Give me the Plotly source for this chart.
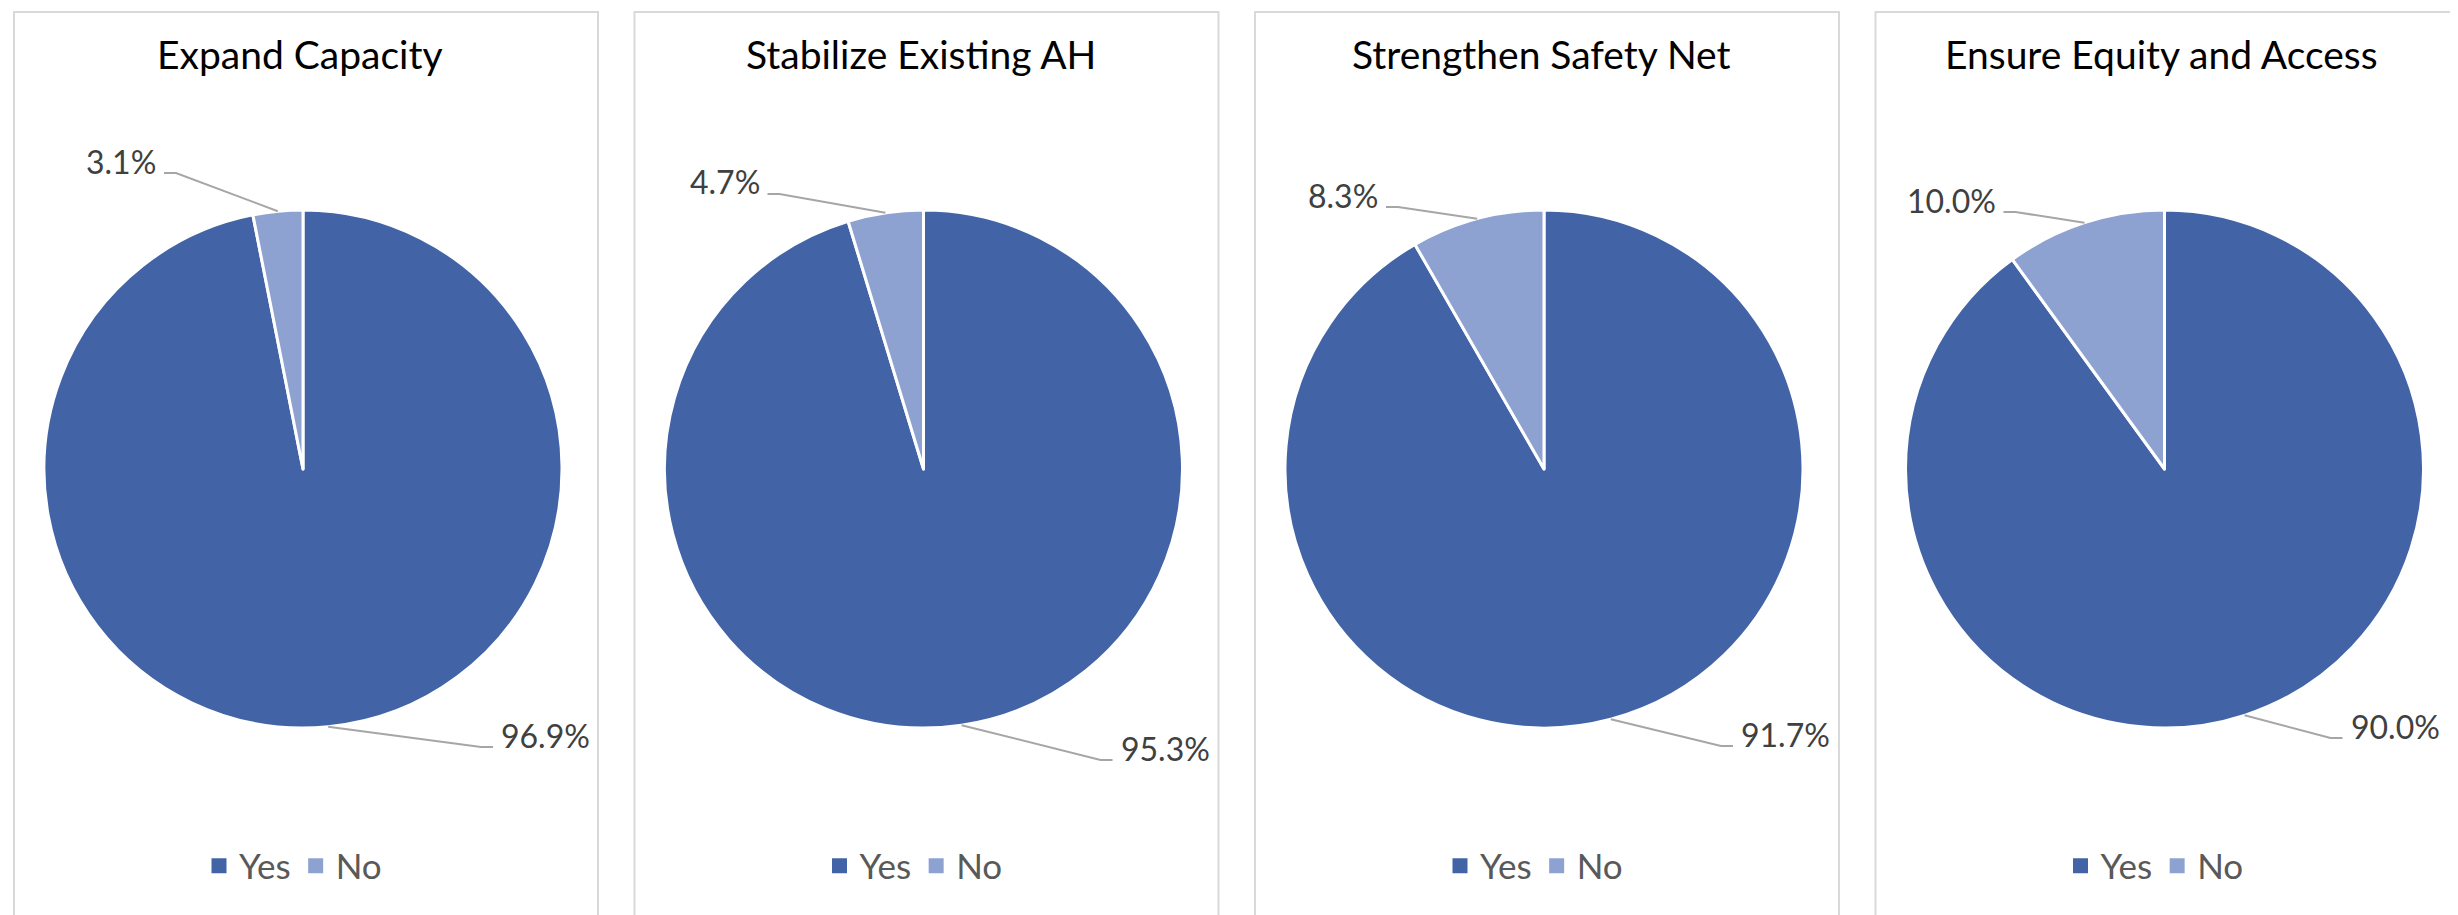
import math
import plotly.graph_objects as go

# ---- data ----
titles = ["Expand Capacity", "Stabilize Existing AH", "Strengthen Safety Net", "Ensure Equity and Access"]
categories = ["Yes", "No"]
yes_values = [96.9, 95.3, 91.7, 90.0]
no_values = [3.1, 4.7, 8.3, 10.0]

# ---- layout / style ----
W, H = 2458, 915
colors = ["#4264A6", "#8EA2D2"]
FONT = "Lato"
panel_step = 620.5
cx0, cy, R = 295.0, 461.0, 259.0
# label anchor offsets relative to pie centre (px): (x edge, middle y)
yes_label_off = [(196, 266), (195, 279), (195, 265), (184, 257)]
no_label_off = [(-145, -308), (-162, -287), (-164, -274), (-167, -269)]


def px(x):
    return x / W


def py(y):
    return 1 - y / H


fig = go.Figure()
shapes = []
annotations = []

for i in range(4):
    cx = cx0 + panel_step * i
    vals = [yes_values[i], no_values[i]]
    lg = "legend" if i == 0 else f"legend{i + 1}"
    fig.add_trace(go.Pie(
        labels=categories,
        values=vals,
        sort=False,
        direction="clockwise",
        rotation=0,
        textinfo="none",
        hoverinfo="label+percent",
        marker=dict(colors=colors, line=dict(color="white", width=3)),
        domain=dict(x=[px(cx - R), px(cx + R)], y=[py(cy + R), py(cy - R)]),
        showlegend=False,
    ))
    # legend entries (one per category, per panel)
    for name, col in zip(categories, colors):
        fig.add_trace(go.Scatter(x=[None], y=[None], mode="markers", name=name,
                                 marker=dict(symbol="square", size=15, color=col),
                                 legend=lg, showlegend=True, hoverinfo="skip"))
    # panel border
    shapes.append(dict(type="rect", xref="paper", yref="paper",
                       x0=px(cx - 289), x1=px(cx + 295), y0=py(920), y1=py(4),
                       line=dict(color="#D9D9D9", width=2), layer="below"))
    # title
    annotations.append(dict(text=titles[i], x=px(cx - 3), y=py(46), xref="paper", yref="paper",
                            showarrow=False, xanchor="center", yanchor="middle",
                            font=dict(family=FONT, size=39, color="#000000")))
    # legend
    fig.update_layout({lg: dict(orientation="h", x=px(cx - 10), y=py(858), xanchor="center",
                                yanchor="middle", font=dict(family=FONT, size=35, color="#595959"),
                                bgcolor="rgba(0,0,0,0)", traceorder="normal", itemclick=False,
                                itemwidth=30)})

    total = sum(vals)
    fy = vals[0] / total
    mids = [fy * 180.0, fy * 360.0 + (1 - fy) * 180.0]
    offs = [yes_label_off[i], no_label_off[i]]
    for k in range(2):
        th = math.radians(mids[k])
        ex, ey = cx + R * math.sin(th), cy - R * math.cos(th)
        lx, lmid = cx + offs[k][0], cy + offs[k][1]
        base = lmid + 12
        sgn = -1 if k == 0 else 1
        p1x, p2x = lx + sgn * 18, lx + sgn * 6
        path = f"M {px(ex)},{py(ey)} L {px(p1x)},{py(base)} L {px(p2x)},{py(base)}"
        shapes.append(dict(type="path", xref="paper", yref="paper", path=path,
                           line=dict(color="#A6A6A6", width=2)))
        annotations.append(dict(text=f"{vals[k]:.1f}%", x=px(lx), y=py(lmid), xref="paper", yref="paper",
                                showarrow=False, xanchor="left" if k == 0 else "right", yanchor="middle",
                                font=dict(family=FONT, size=32, color="#404040")))

fig.update_layout(width=W, height=H, margin=dict(l=0, r=0, t=0, b=0),
                  paper_bgcolor="white", plot_bgcolor="white",
                  xaxis=dict(visible=False), yaxis=dict(visible=False),
                  shapes=shapes, annotations=annotations,
                  font=dict(family=FONT))
fig.write_html("out.html")
